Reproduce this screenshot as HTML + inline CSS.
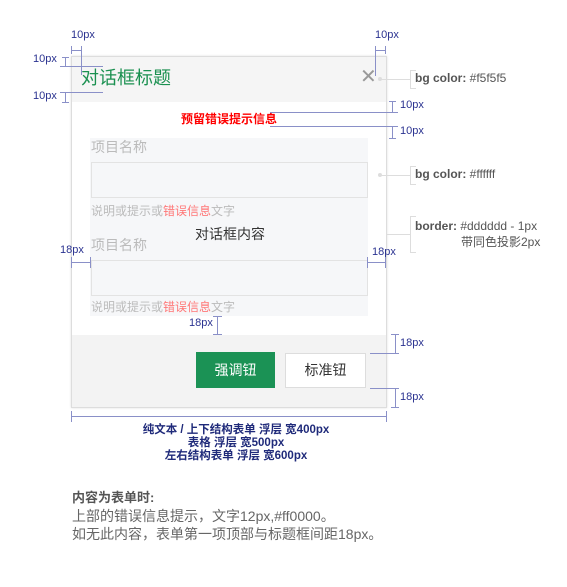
<!DOCTYPE html>
<html><head><meta charset="utf-8"><style>
body{margin:0;width:567px;height:587px;background:#fff;position:relative;overflow:hidden;font-family:"Liberation Sans","Noto Sans CJK SC",sans-serif}
div{position:absolute;box-sizing:border-box}
.t{white-space:nowrap;line-height:1}
.d{color:#2a3290;font-size:11px}
.l{background:#8a90c8}
.g{background:#ddd}
</style></head><body>
<!-- dialog -->
<div style="left:71px;top:56px;width:316px;height:352px;border:1px solid #ddd;box-shadow:0 0 2px #ddd;background:#fff"></div>
<div style="left:72px;top:57px;width:314px;height:45px;background:#f5f5f5"></div>
<div class="t" style="left:81px;top:69px;font-size:18px;color:#1a9050">对话框标题</div>
<div class="t" style="left:360px;top:67px;font-size:20px;color:#999">✕</div>
<div class="t" style="left:181px;top:113px;font-size:12px;font-weight:bold;color:#ff0000">预留错误提示信息</div>
<div style="left:90px;top:138px;width:278px;height:178px;background:#f6f7f9"></div>
<div class="t" style="left:91px;top:140px;font-size:14px;color:#bbb">项目名称</div>
<div style="left:91px;top:162px;width:277px;height:36px;border:1px solid #e3e3e3"></div>
<div class="t" style="left:91px;top:205px;font-size:12px;color:#bbb">说明或提示或<span style="color:#f77">错误信息</span>文字</div>
<div class="t" style="left:195px;top:227px;font-size:14px;color:#333">对话框内容</div>
<div class="t" style="left:91px;top:238px;font-size:14px;color:#bbb">项目名称</div>
<div style="left:91px;top:260px;width:277px;height:36px;border:1px solid #e3e3e3"></div>
<div class="t" style="left:91px;top:301px;font-size:12px;color:#bbb">说明或提示或<span style="color:#f77">错误信息</span>文字</div>
<div style="left:72px;top:335px;width:314px;height:72px;background:#f3f3f3"></div>
<div class="t" style="left:196px;top:352px;width:79px;height:36px;background:#1b9255;color:#fff;font-size:14px;text-align:center;line-height:36px;position:absolute">强调钮</div>
<div class="t" style="left:285px;top:353px;width:81px;height:35px;background:#fff;border:1px solid #ddd;color:#333;font-size:14px;text-align:center;line-height:33px">标准钮</div>
<!-- dims top-left -->
<div class="t d" style="left:71px;top:30px">10px</div>
<div class="l" style="left:71px;top:50px;width:10px;height:1px"></div>
<div class="l" style="left:71px;top:46px;width:1px;height:8px"></div>
<div class="l" style="left:81px;top:46px;width:1px;height:29px"></div>
<div class="t d" style="left:33px;top:54px">10px</div>
<div class="l" style="left:65px;top:57px;width:1px;height:10px"></div>
<div class="l" style="left:62px;top:57px;width:7px;height:1px"></div>
<div class="l" style="left:60px;top:66px;width:43px;height:1px"></div>
<div class="t d" style="left:33px;top:91px">10px</div>
<div class="l" style="left:60px;top:92px;width:43px;height:1px"></div>
<div class="l" style="left:65px;top:92px;width:1px;height:10px"></div>
<div class="l" style="left:62px;top:102px;width:7px;height:1px"></div>
<!-- top-right -->
<div class="t d" style="left:375px;top:30px">10px</div>
<div class="l" style="left:375px;top:50px;width:10px;height:1px"></div>
<div class="l" style="left:385px;top:46px;width:1px;height:8px"></div>
<div class="l" style="left:375px;top:46px;width:1px;height:30px"></div>
<!-- error spacing -->
<div class="l" style="left:270px;top:112px;width:128px;height:1px"></div>
<div class="l" style="left:270px;top:126px;width:128px;height:1px"></div>
<div class="l" style="left:392px;top:101px;width:1px;height:11px"></div>
<div class="l" style="left:389px;top:101px;width:7px;height:1px"></div>
<div class="l" style="left:392px;top:127px;width:1px;height:11px"></div>
<div class="l" style="left:389px;top:138px;width:7px;height:1px"></div>
<div class="t d" style="left:400px;top:100px">10px</div>
<div class="t d" style="left:400px;top:126px">10px</div>
<!-- 18px sides -->
<div class="t d" style="left:60px;top:245px">18px</div>
<div class="l" style="left:71px;top:262px;width:19px;height:1px"></div>
<div class="l" style="left:71px;top:257px;width:1px;height:11px"></div>
<div class="l" style="left:90px;top:257px;width:1px;height:11px"></div>
<div class="t d" style="left:372px;top:247px">18px</div>
<div class="l" style="left:367px;top:262px;width:19px;height:1px"></div>
<div class="l" style="left:367px;top:257px;width:1px;height:11px"></div>
<div class="l" style="left:385px;top:257px;width:1px;height:11px"></div>
<div class="t d" style="left:189px;top:318px">18px</div>
<div class="l" style="left:217px;top:316px;width:1px;height:19px"></div>
<div class="l" style="left:213px;top:316px;width:9px;height:1px"></div>
<div class="l" style="left:213px;top:334px;width:9px;height:1px"></div>
<!-- footer right -->
<div class="l" style="left:395px;top:334px;width:1px;height:19px"></div>
<div class="l" style="left:391px;top:334px;width:8px;height:1px"></div>
<div class="l" style="left:370px;top:353px;width:29px;height:1px"></div>
<div class="l" style="left:370px;top:388px;width:29px;height:1px"></div>
<div class="l" style="left:395px;top:388px;width:1px;height:19px"></div>
<div class="l" style="left:391px;top:407px;width:8px;height:1px"></div>
<div class="t d" style="left:400px;top:338px">18px</div>
<div class="t d" style="left:400px;top:392px">18px</div>
<!-- width -->
<div class="l" style="left:71px;top:416px;width:316px;height:1px"></div>
<div class="l" style="left:71px;top:411px;width:1px;height:11px"></div>
<div class="l" style="left:386px;top:411px;width:1px;height:11px"></div>
<div class="t" style="left:71px;top:424px;width:330px;text-align:center;font-size:11.5px;font-weight:bold;color:#1f2a7a;line-height:13px">纯文本 / 上下结构表单 浮层 宽400px<br>表格 浮层 宽500px<br>左右结构表单 浮层 宽600px</div>
<!-- annotations -->
<div class="g" style="left:380px;top:79px;width:30px;height:1px"></div>
<div style="left:378px;top:77px;width:4px;height:4px;border-radius:2px;background:#ddd"></div>
<div class="g" style="left:410px;top:70px;width:1px;height:19px"></div>
<div class="g" style="left:410px;top:70px;width:6px;height:1px"></div>
<div class="g" style="left:410px;top:88px;width:6px;height:1px"></div>
<div class="t" style="left:415px;top:72px;font-size:12px;color:#555"><b>bg color:</b> #f5f5f5</div>
<div class="g" style="left:380px;top:175px;width:30px;height:1px"></div>
<div style="left:378px;top:173px;width:4px;height:4px;border-radius:2px;background:#ddd"></div>
<div class="g" style="left:410px;top:166px;width:1px;height:19px"></div>
<div class="g" style="left:410px;top:166px;width:6px;height:1px"></div>
<div class="g" style="left:410px;top:184px;width:6px;height:1px"></div>
<div class="t" style="left:415px;top:168px;font-size:12px;color:#555"><b>bg color:</b> #ffffff</div>
<div class="g" style="left:386px;top:234px;width:24px;height:1px"></div>
<div class="g" style="left:410px;top:216px;width:1px;height:37px"></div>
<div class="g" style="left:410px;top:216px;width:6px;height:1px"></div>
<div class="g" style="left:410px;top:252px;width:6px;height:1px"></div>
<div class="t" style="left:415px;top:220px;font-size:12px;color:#555"><b>border:</b> #dddddd - 1px</div>
<div class="t" style="left:461px;top:236px;font-size:12px;color:#555">带同色投影2px</div>
<!-- notes -->
<div class="t" style="left:72px;top:491px;font-size:13px;font-weight:bold;color:#555">内容为表单时:</div>
<div class="t" style="left:72px;top:509px;font-size:14px;color:#666">上部的错误信息提示，文字12px,#ff0000。</div>
<div class="t" style="left:72px;top:527px;font-size:14px;color:#666">如无此内容，表单第一项顶部与标题框间距18px。</div>
</body></html>
